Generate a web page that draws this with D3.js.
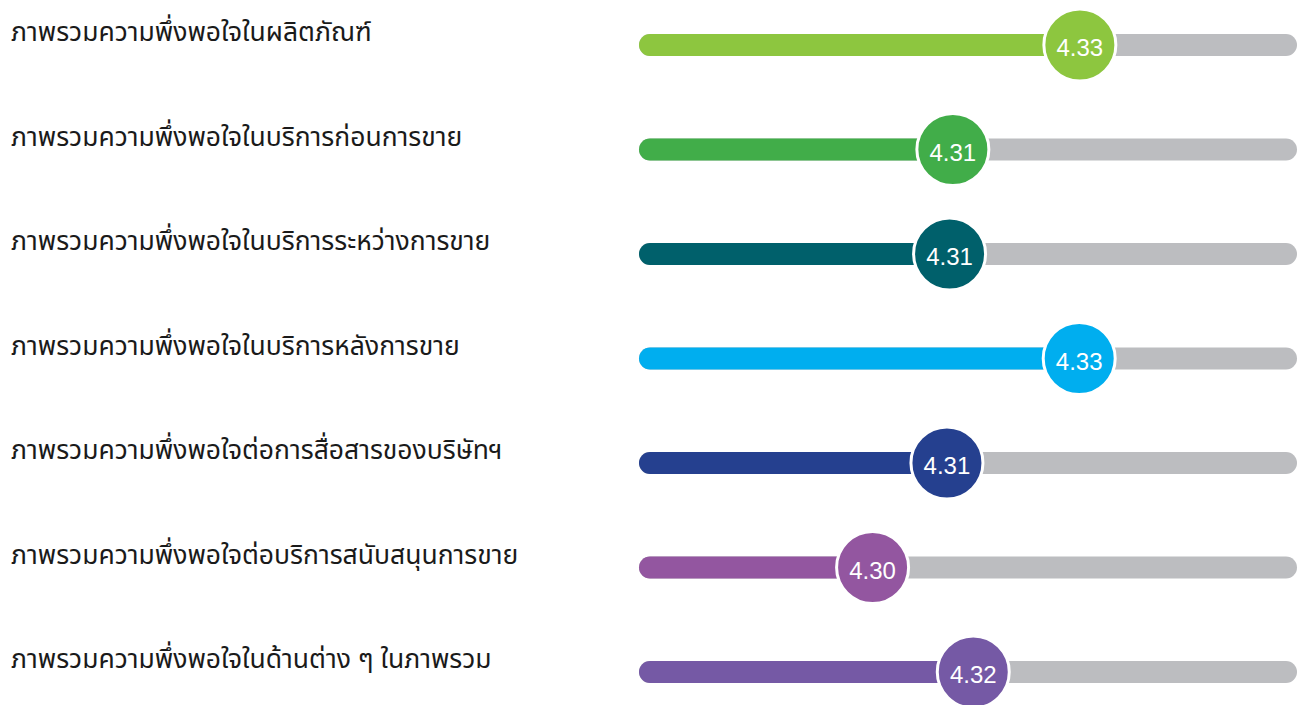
<!DOCTYPE html>
<html>
<head>
<meta charset="utf-8">
<script src="https://cdn.jsdelivr.net/npm/d3@7"></script>
<style>
  body { margin: 0; background: #fff; }
  svg { display: block; }
</style>
</head>
<body>
<svg></svg>
<script>
// topics (Thai labels), top to bottom
var labels = [
  "ภาพรวมความพึ่งพอใจในผลิตภัณฑ์",
  "ภาพรวมความพึ่งพอใจในบริการก่อนการขาย",
  "ภาพรวมความพึ่งพอใจในบริการระหว่างการขาย",
  "ภาพรวมความพึ่งพอใจในบริการหลังการขาย",
  "ภาพรวมความพึ่งพอใจต่อการสื่อสารของบริษัทฯ",
  "ภาพรวมความพึ่งพอใจต่อบริการสนับสนุนการขาย",
  "ภาพรวมความพึ่งพอใจในด้านต่าง ๆ ในภาพรวม"
];
// score shown in the knob
var scores = [4.33, 4.31, 4.31, 4.33, 4.31, 4.30, 4.32];
// how far along the track the knob sits (percent)
var fillPct = [67.0, 47.7, 47.2, 66.9, 46.8, 35.5, 50.8];
var colors = ["#8dc63f", "#41ad49", "#00606b", "#00aeef", "#25408f", "#9356a0", "#7559a5"];

var screen = {width: 1303, height: 705};

var svg = d3.select("svg")
    .attr("width", screen.width)
    .attr("height", screen.height);

var xScale = d3.scaleLinear()
    .domain([0, 100])
    .range([639, 1297]);

var yScale = d3.scalePoint()
    .domain(d3.range(labels.length))
    .range([45, 672]);

var barH = 22;
var knobR = 36;

var rows = svg.selectAll("g.row")
    .data(labels)
    .enter()
    .append("g")
    .classed("row", true)
    .attr("transform", function(d, i) { return "translate(0," + yScale(i) + ")"; });

// label
rows.append("text")
    .attr("x", 11)
    .attr("y", -4)
    .attr("font-family", "'Noto Sans Thai', 'Noto Sans', sans-serif")
    .attr("font-size", "26.5px")
    .attr("fill", "#1a1a1a")
    .text(function(d) { return d; });

// grey track
rows.append("rect")
    .attr("x", xScale(0))
    .attr("y", -barH / 2)
    .attr("width", xScale(100) - xScale(0))
    .attr("height", barH)
    .attr("rx", barH / 2)
    .attr("fill", "#bcbdc0");

// coloured part
rows.append("rect")
    .attr("x", xScale(0))
    .attr("y", -barH / 2)
    .attr("width", function(d, i) { return xScale(fillPct[i]) - xScale(0); })
    .attr("height", barH)
    .attr("rx", barH / 2)
    .attr("fill", function(d, i) { return colors[i]; });

// knob
rows.append("circle")
    .attr("cx", function(d, i) { return xScale(fillPct[i]); })
    .attr("cy", 0)
    .attr("r", knobR)
    .attr("fill", function(d, i) { return colors[i]; })
    .attr("stroke", "#fff")
    .attr("stroke-width", 3);

rows.append("text")
    .attr("x", function(d, i) { return xScale(fillPct[i]); })
    .attr("y", 3)
    .attr("dy", "0.35em")
    .attr("text-anchor", "middle")
    .attr("font-family", "'Liberation Sans', Arial, sans-serif")
    .attr("font-size", "24px")
    .attr("fill", "#fff")
    .text(function(d, i) { return scores[i].toFixed(2); });
</script>
</body>
</html>
